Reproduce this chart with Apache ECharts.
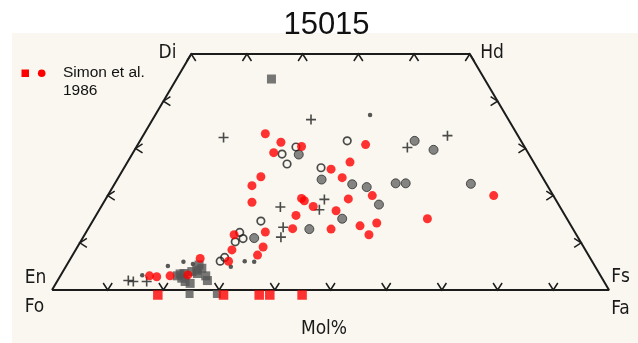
<!DOCTYPE html>
<html><head><meta charset="utf-8">
<script src="https://cdn.jsdelivr.net/npm/echarts@6/dist/echarts.min.js"></script>
<style>html,body{margin:0;padding:0;background:#fff}#c{width:638px;height:343px}</style>
</head><body><div id="c"></div>
<script>
// Pyroxene quadrilateral coordinates: [position along En–Fs (mol%, Fs + Wo/2), Wo (mol%)]
const cornerLabels = ['Di', 'Hd', 'En', 'Fs', 'Fo', 'Fa'];
const outline = [[0,0],[25,50],[75,50],[100,0],[0,0]];
const topTicks = [25,35,45,55,65,75];
const bottomTicks = [10,20,30,40,50,60,70,80,90];
const sideTicksWo = [10,20,30,40];

// Simon et al. 1986 (red)
const simonCircles = [[38.3,33.1],[41.1,31.3],[39.8,29.1],[44.8,30.4],[56.3,30.8],[53.5,27.1],[50.1,25.6],[37.5,24.0],[35.9,22.1],[35.9,18.6],[44.8,19.4],[45.3,18.9],[46.9,17.7],[43.8,15.8],[43.2,13.0],[38.3,12.3],[37.9,9.1],[32.7,11.7],[32.3,8.5],[36.9,7.4],[31.7,6.1],[26.6,6.7],[17.5,3.0],[18.8,2.8],[21.2,3.0],[24.4,3.2],[52.1,23.8],[53.2,19.3],[51.0,16.8],[50.1,12.9],[55.3,13.6],[58.3,14.2],[56.9,11.7],[57.5,20.0],[67.4,15.1],[79.3,20.0]];
const simonOlivine = [19.0,30.8,37.2,39.1,44.9];   // Fa on Fo–Fa join

// original figure symbols
const graySquares = [[39.4,44.7],[22.5,3.0],[23.0,3.4],[23.7,3.5],[25.1,3.9],[26.0,4.2],[26.9,4.6],[26.4,5.3],[27.6,3.0],[27.9,2.0],[23.9,1.8],[24.8,1.4],[23.3,2.5],[26.1,3.5]];
const grayOlivine = [24.7,29.6];
const grayCircles = [[44.3,28.7],[48.4,23.4],[52.1,15.1],[46.2,12.9],[36.3,11.0],[65.1,31.6],[68.5,29.7],[53.9,22.4],[56.5,21.8],[58.7,18.1],[61.7,22.6],[63.5,22.6],[75.2,22.5]];
const openCircles = [[43.8,30.3],[41.3,28.8],[42.2,26.7],[48.3,25.9],[53.0,31.6],[37.5,14.6],[33.7,12.2],[34.3,10.9],[32.9,10.2],[30.2,6.1],[31.0,6.9]];
const crosses = [[30.8,32.3],[46.5,36.1],[63.8,30.2],[71.0,32.7],[41.0,17.6],[41.5,13.3],[41.1,11.2],[48.9,19.2],[48.0,17.0],[13.7,2.0],[14.6,1.8],[17.0,1.8]];
const smallDots = [[57.1,37.1],[16.2,3.1],[20.8,5.1],[23.6,6.0],[25.3,5.5],[32.1,4.9],[34.6,6.1],[36.3,6.0]];

const tickData = [];
topTicks.forEach(x => tickData.push([x, 50, 0]));
bottomTicks.forEach(x => tickData.push([x, 0, 1]));
sideTicksWo.forEach(w => { tickData.push([w/2, w, 2]); tickData.push([100 - w/2, w, 3]); });

const chart = echarts.init(document.getElementById('c'), null, {renderer:'canvas'});
const lab = (text, x, y, size) => ({type:'text', x, y, z:10, style:{text, fill:'#1a1a1a', font: '500 ' + size + 'px "DejaVu Sans Condensed", "DejaVu Sans"', align:'center', verticalAlign:'middle'}});
const plusPath = 'path://M0,4.2H10V5.8H0Z M4.2,0H5.8V10H4.2Z';
chart.setOption({
  animation:false,
  backgroundColor:'#ffffff',
  grid:{left:52, right:29, top:54, bottom:53},
  xAxis:{type:'value', min:0, max:100, show:false},
  yAxis:{type:'value', min:0, max:50, show:false},
  graphic:{elements:[
    {type:'rect', shape:{x:12, y:33, width:626, height:310}, style:{fill:'#f9f7ef'}, z:-5},
    {type:'text', x:326.5, y:25.5, z:10, style:{text:'15015', fill:'#111', font:'31px "Liberation Sans", Arial', align:'center', verticalAlign:'middle'}},
    lab(cornerLabels[0], 167.5, 53.5, 19), lab(cornerLabels[1], 492, 53, 19),
    lab(cornerLabels[2], 35.5, 278.5, 19), lab(cornerLabels[3], 620.5, 277.5, 19),
    lab(cornerLabels[4], 34.5, 307.5, 19), lab(cornerLabels[5], 620.5, 309.5, 19),
    lab('Mol%', 324, 329, 19),
    {type:'rect', shape:{x:21.5, y:69.5, width:7.5, height:7.5}, style:{fill:'#ff0000'}, z:10},
    {type:'circle', shape:{cx:41.7, cy:73.3, r:3.8}, style:{fill:'#ff0000'}, z:10},
    {type:'text', x:63, y:72.3, z:10, style:{text:'Simon et al.', fill:'#111', font:'15.5px "Liberation Sans", Arial', align:'left', verticalAlign:'middle'}},
    {type:'text', x:63, y:90.8, z:10, style:{text:'1986', fill:'#111', font:'15.5px "Liberation Sans", Arial', align:'left', verticalAlign:'middle'}}
  ]},
  series:[
    {type:'line', data:outline, symbol:'none', lineStyle:{color:'#1c1c1c', width:2}, silent:true, z:3},
    {type:'custom', data:tickData, z:3, silent:true,
     renderItem:(params, api) => {
       const p = api.coord([api.value(0), api.value(1)]);
       const d = api.value(2), w = 4.5, h = 7;
       let pts;
       if (d === 0) pts = [[p[0]-w,p[1]+h],[p[0],p[1]],[p[0]+w,p[1]+h]];
       else if (d === 1) pts = [[p[0]-w,p[1]-h],[p[0],p[1]],[p[0]+w,p[1]-h]];
       else if (d === 2) pts = [[p[0]+h,p[1]-w],[p[0],p[1]],[p[0]+h,p[1]+w]];
       else pts = [[p[0]-h,p[1]-w],[p[0],p[1]],[p[0]-h,p[1]+w]];
       return {type:'polyline', shape:{points:pts}, style:{stroke:'#1c1c1c', lineWidth:1.5, fill:null}};
     }},
    {type:'scatter', data:graySquares, symbol:'rect', symbolSize:9, itemStyle:{color:'#555555'}, z:4},
    {type:'scatter', data:grayOlivine.map(v => [v,0]), symbol:'rect', symbolSize:8, symbolOffset:[0,4], itemStyle:{color:'#555555'}, z:4},
    {type:'scatter', data:grayCircles, symbol:'circle', symbolSize:9, itemStyle:{color:'#666666', borderColor:'#2e2e2e', borderWidth:1}, z:4},
    {type:'scatter', data:openCircles, symbol:'circle', symbolSize:7.5, itemStyle:{color:'rgba(0,0,0,0)', borderColor:'#1e1e1e', borderWidth:1.7}, z:4},
    {type:'scatter', data:crosses, symbol:plusPath, symbolSize:10, itemStyle:{color:'#1e1e1e'}, z:4},
    {type:'scatter', data:smallDots, symbol:'circle', symbolSize:4.5, itemStyle:{color:'#2e2e2e'}, z:4},
    {type:'scatter', data:simonCircles, symbol:'circle', symbolSize:9, itemStyle:{color:'#ff0000'}, z:5},
    {type:'scatter', data:simonOlivine.map(v => [v,0]), symbol:'rect', symbolSize:9.5, symbolOffset:[0,5], itemStyle:{color:'#ff0000'}, z:5}
  ]
});
</script></body></html>
